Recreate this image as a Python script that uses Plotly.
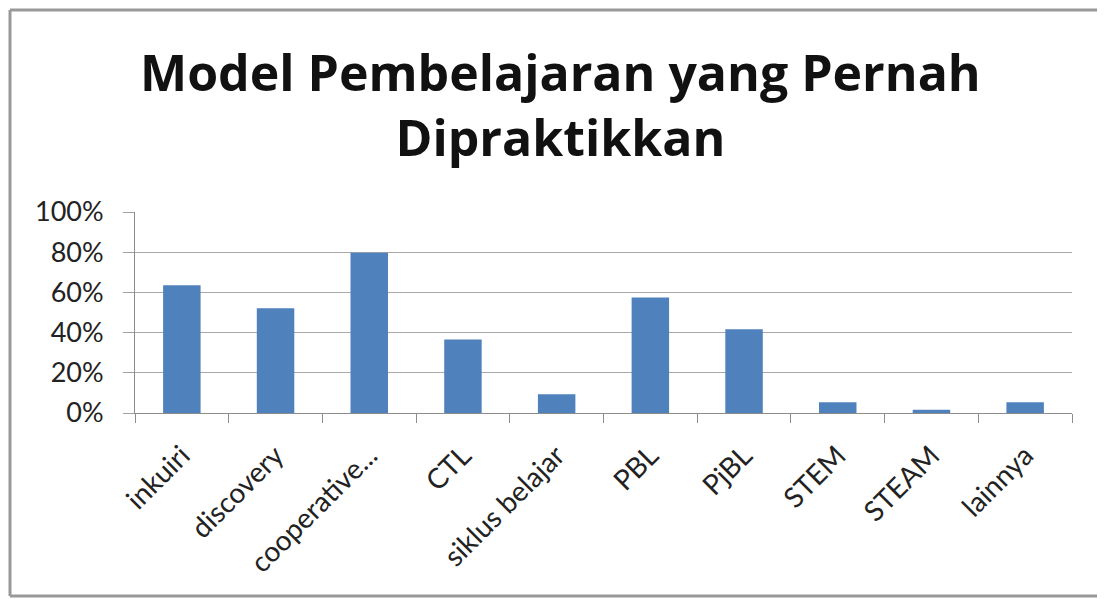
import plotly.graph_objects as go

categories = ["inkuiri", "discovery", "cooperative...", "CTL", "siklus belajar",
              "PBL", "PjBL", "STEM", "STEAM", "lainnya"]
values = [0.636, 0.521, 0.797, 0.366, 0.093, 0.575, 0.417, 0.053, 0.016, 0.053]
y_ticks = [0, 0.2, 0.4, 0.6, 0.8, 1.0]
y_tick_labels = ["0%", "20%", "40%", "60%", "80%", "100%"]
title_text = "Model Pembelajaran yang Pernah<br>Dipraktikkan"

W, H = 1105, 599
OFF = 8  # page body margin
L, R, T, B = 135 - OFF, 1072 - OFF, 212 - OFF, 413 - OFF

def px_x(px):
    return (px - OFF - L) / (R - L)

def px_y(py):
    return (B - (py - OFF)) / (B - T)

fig = go.Figure(go.Bar(
    x=categories, y=values,
    marker=dict(color="#4F81BD", line=dict(width=0)),
))

fig.update_layout(
    width=W, height=H,
    margin=dict(l=L, r=W - R, t=T, b=H - B),
    paper_bgcolor="white", plot_bgcolor="white",
    bargap=0.6,
    showlegend=False,
    font=dict(family="Lato, Carlito, sans-serif", color="#222222"),
)

fig.add_annotation(
    text="<b>" + title_text + "</b>",
    xref="paper", yref="paper",
    x=px_x(560), y=px_y(104),
    xanchor="center", yanchor="middle",
    showarrow=False,
    font=dict(size=50, color="#111111", family="Open Sans, sans-serif"),
    align="center",
)

fig.update_xaxes(
    type="category",
    tickangle=-45,
    ticks="outside", tickson="boundaries", ticklen=9, tickcolor="#8c8c8c",
    showline=True, linecolor="#8c8c8c", linewidth=1,
    showgrid=False,
    tickfont=dict(size=28, color="#222222"),
    ticklabelstandoff=14,
)
fig.update_yaxes(
    range=[0, 1.0],
    tickvals=y_ticks, ticktext=y_tick_labels,
    ticks="outside", ticklen=11, tickcolor="#a0a0a0",
    showline=True, linecolor="#8c8c8c", linewidth=1,
    showgrid=True, gridcolor="#a8a8a8", gridwidth=1,
    zeroline=False,
    tickfont=dict(size=27, color="#222222"),
    ticklabelstandoff=14,
)

border = dict(color="#999999", width=3)
bx0, by0, by1, bx_end = px_x(OFF + 2), px_y(596), px_y(OFF + 2), px_x(1300)
for (xa, ya, xb, yb) in [(bx0, by1, bx_end, by1),   # top
                         (bx0, by0, bx0, by1),      # left
                         (bx0, by0, bx_end, by0)]:  # bottom
    fig.add_shape(type="line", xref="paper", yref="paper",
                  x0=xa, y0=ya, x1=xb, y1=yb, line=border, layer="below")

fig.write_html("out.html")
